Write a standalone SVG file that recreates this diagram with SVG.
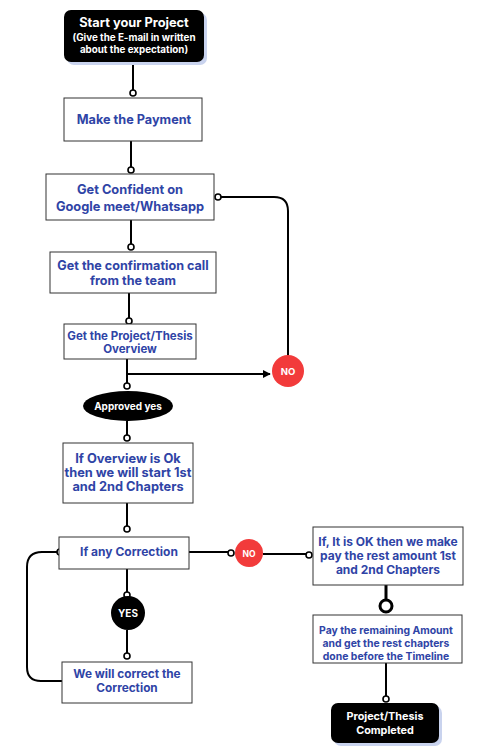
<svg xmlns="http://www.w3.org/2000/svg" width="480" height="750" viewBox="0 0 480 750">
<defs>
<style>
.box{fill:#fff;stroke:#333;stroke-width:1}
.dark{fill:#000}
.shadow{fill:#c9d3ee}
.t{font-family:Inter,"Liberation Sans",sans-serif;font-weight:700;fill:#2f44a6;text-anchor:middle}
.w{font-family:Inter,"Liberation Sans",sans-serif;font-weight:700;fill:#fff;text-anchor:middle}
.ln{fill:none;stroke:#000;stroke-width:2}
.dot{fill:#fff;stroke:#000;stroke-width:1.6}
.red{fill:#f23b3b}
</style>
<marker id="arr" viewBox="0 0 10 10" refX="9" refY="5" markerWidth="4" markerHeight="4" orient="auto" markerUnits="strokeWidth"><path d="M0,0L10,5L0,10z" fill="#000"/></marker>
</defs>
<rect width="480" height="750" fill="#fff"/>
<g id="connectors">
<path class="ln" d="M133,62V90"/>
<path class="ln" d="M131,141V167"/>
<path class="ln" d="M131,220V244"/>
<path class="ln" d="M129,293V318"/>
<path class="ln" d="M127,359V383"/>
<path class="ln" d="M127,374H270" marker-end="url(#arr)"/>
<path class="ln" d="M221,197H274Q288,197 288,211V356"/>
<path class="ln" d="M127,421V435"/>
<path class="ln" d="M127,503V526"/>
<path class="ln" d="M127,569V592"/>
<path class="ln" d="M127,630V653"/>
<path class="ln" d="M57,552H42Q27,552 27,567V667Q27,681 41,681H62"/>
<path class="ln" d="M189,552H228"/>
<path class="ln" d="M263,554H306"/>
<path class="ln" style="stroke-width:3" d="M386,585V601"/>
<path class="ln" d="M386,663V696"/>
<circle class="dot" cx="133" cy="93" r="3"/>
<circle class="dot" cx="131" cy="170" r="3"/>
<circle class="dot" cx="218" cy="197" r="3"/>
<circle class="dot" cx="131" cy="247" r="3"/>
<circle class="dot" cx="129" cy="321" r="3"/>
<circle class="dot" cx="127" cy="386" r="3"/>
<circle class="dot" cx="127" cy="438" r="3"/>
<circle class="dot" cx="127" cy="529" r="3"/>
<circle class="dot" cx="60" cy="552" r="3"/>
<circle class="dot" cx="231" cy="553" r="3"/>
<circle class="dot" cx="309" cy="555" r="3"/>
<circle class="dot" cx="127" cy="595" r="3"/>
<circle class="dot" cx="127" cy="656" r="3"/>
<circle class="dot" style="stroke-width:3" cx="386" cy="606" r="6"/>
<circle class="dot" cx="386" cy="699" r="3"/>
</g>
<g id="start">
<rect class="shadow" x="67" y="13" width="140" height="52" rx="7"/>
<rect class="dark" x="64" y="10" width="140" height="52" rx="7"/>
<text class="w" x="134" y="27" font-size="12.8">Start your Project</text>
<text class="w" x="134" y="41" font-size="9.8">(Give the E-mail in written</text>
<text class="w" x="134" y="53" font-size="9.8">about the expectation)</text>
</g>
<g id="payment">
<rect class="box" x="64" y="98" width="138" height="43"/>
<text class="t" x="134" y="124" font-size="12.7">Make the Payment</text>
</g>
<g id="confident">
<rect class="box" x="46" y="174" width="168" height="46"/>
<text class="t" x="130" y="194" font-size="12.8">Get Confident on</text>
<text class="t" x="130" y="211" font-size="12.8">Google meet/Whatsapp</text>
</g>
<g id="confirmation">
<rect class="box" x="50" y="252" width="166" height="41"/>
<text class="t" x="133" y="270" font-size="12.6">Get the confirmation call</text>
<text class="t" x="133" y="285" font-size="12.6">from the team</text>
</g>
<g id="overview">
<rect class="box" x="64" y="324" width="132" height="35"/>
<text class="t" x="130" y="340" font-size="11.5">Get the Project/Thesis</text>
<text class="t" x="130" y="353" font-size="11.5">Overview</text>
</g>
<g id="no1">
<circle class="red" cx="288" cy="371" r="16"/>
<text class="w" x="288" y="375" font-size="9.5">NO</text>
</g>
<g id="approved">
<ellipse class="dark" cx="128" cy="406" rx="45" ry="15"/>
<text class="w" x="128" y="410" font-size="10">Approved yes</text>
</g>
<g id="overviewok">
<rect class="box" x="63" y="443" width="130" height="60"/>
<text class="t" x="128" y="463" font-size="12.8">If Overview is Ok</text>
<text class="t" x="128" y="477" font-size="12.8">then we will start 1st</text>
<text class="t" x="128" y="491" font-size="12.8">and 2nd Chapters</text>
</g>
<g id="correction">
<rect class="box" x="59" y="537" width="130" height="32"/>
<text class="t" x="129" y="556" font-size="12">If any Correction</text>
</g>
<g id="no2">
<circle class="red" cx="249" cy="553" r="14"/>
<text class="w" x="249" y="557" font-size="8.5">NO</text>
</g>
<g id="yes">
<circle class="dark" cx="128" cy="613" r="17"/>
<text class="w" x="128" y="617" font-size="10">YES</text>
</g>
<g id="correct">
<rect class="box" x="62" y="662" width="130" height="41"/>
<text class="t" x="127" y="678" font-size="11.8">We will correct the</text>
<text class="t" x="127" y="692" font-size="11.8">Correction</text>
</g>
<g id="restamount">
<rect class="box" x="313" y="527" width="150" height="58"/>
<text class="t" x="388" y="546" font-size="12">If, It is OK then we make</text>
<text class="t" x="388" y="560" font-size="12">pay the rest amount 1st</text>
<text class="t" x="388" y="574" font-size="12">and 2nd Chapters</text>
</g>
<g id="remaining">
<rect class="box" x="313" y="615" width="149" height="48"/>
<text class="t" x="386" y="634" font-size="10.4">Pay the remaining Amount</text>
<text class="t" x="386" y="647" font-size="10.4">and get the rest chapters</text>
<text class="t" x="386" y="660" font-size="10.4">done before the Timeline</text>
</g>
<g id="completed">
<rect class="shadow" x="334" y="706" width="108" height="40" rx="7"/>
<rect class="dark" x="331" y="703" width="108" height="40" rx="7"/>
<text class="w" x="385" y="720" font-size="10.8">Project/Thesis</text>
<text class="w" x="385" y="734" font-size="10.8">Completed</text>
</g>
</svg>
